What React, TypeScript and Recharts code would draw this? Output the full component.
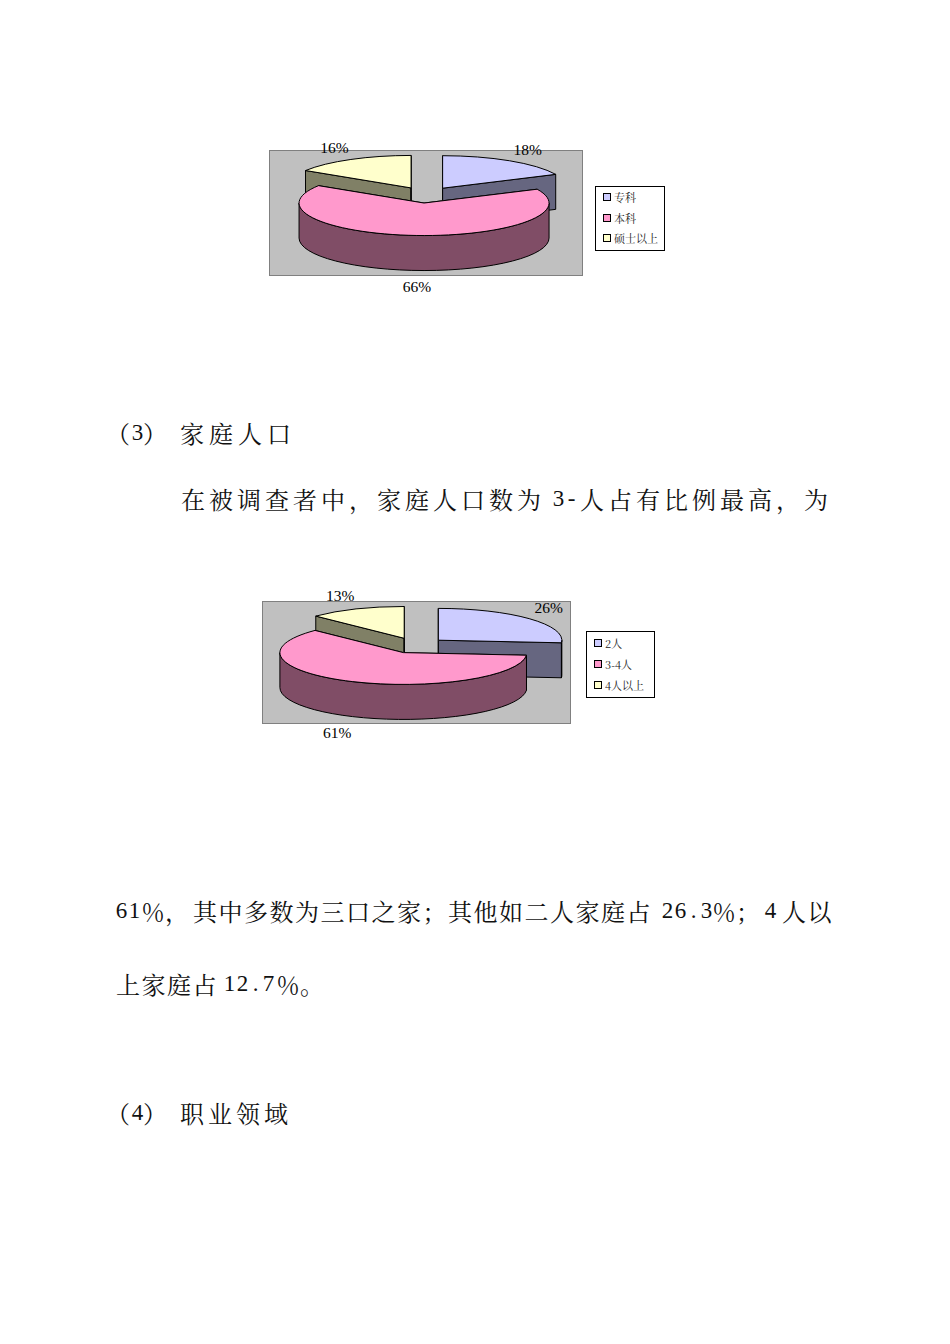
import React from "react"
import { PieChart, Pie, Legend } from "recharts"

const eduCategories = ["专科", "本科", "硕士以上"]
const eduValues = [18, 66, 16]

const familyCategories = ["2人", "3-4人", "4人以上"]
const familyValues = [26.3, 61, 12.7]

const sliceColors = ["#CCCCFF", "#FF99CC", "#FFFFCC"]
// the big slice has to be painted last so it sits in front of the other two
const paintOrder = [2, 0, 1]

const CJK = '"Noto Serif CJK SC", "Noto Sans CJK SC", serif'
const SERIF = '"Liberation Serif", serif'

const halfShade = (hex: string) => {
  const n = parseInt(hex.slice(1), 16)
  const c = [(n >> 16) & 255, (n >> 8) & 255, n & 255].map((v) => Math.round(v / 2))
  return `rgb(${c[0]},${c[1]},${c[2]})`
}

const rad = (a: number) => (a * Math.PI) / 180

// draws a recharts sector as an exploded slice of a tilted pie
function makeSlice(tilt: number, depth: number, explode: number) {
  return function Slice(props: any) {
    const { cx, cy, outerRadius, startAngle, endAngle, fill } = props
    const rx = outerRadius
    const ry = outerRadius * tilt
    const mid = (startAngle + endAngle) / 2
    const ox = cx + explode * Math.cos(rad(mid))
    const oy = cy - explode * tilt * Math.sin(rad(mid))
    const pt = (a: number, d = 0) => `${ox + rx * Math.cos(rad(a))} ${oy - ry * Math.sin(rad(a)) + d}`
    const side = halfShade(fill)
    const large = Math.abs(startAngle - endAngle) > 180 ? 1 : 0

    const wallFrom = Math.min(startAngle, 0)
    const wallTo = Math.max(endAngle, -180)
    const hasWall = wallFrom > wallTo
    const wallLarge = wallFrom - wallTo > 180 ? 1 : 0

    const line = { stroke: "#000", strokeWidth: 1, strokeLinejoin: "round" as const }
    return (
      <g>
        {[startAngle, endAngle].map((a: number) => (
          <path
            key={a}
            d={`M${ox} ${oy}L${pt(a)}L${pt(a, depth)}L${ox} ${oy + depth}Z`}
            fill={side}
            {...line}
          />
        ))}
        {hasWall && (
          <path
            d={`M${pt(wallFrom)}A${rx} ${ry} 0 ${wallLarge} 1 ${pt(wallTo)}L${pt(wallTo, depth)}A${rx} ${ry} 0 ${wallLarge} 0 ${pt(wallFrom, depth)}Z`}
            fill={side}
            {...line}
          />
        )}
        <path d={`M${ox} ${oy}L${pt(startAngle)}A${rx} ${ry} 0 ${large} 1 ${pt(endAngle)}Z`} fill={fill} {...line} />
      </g>
    )
  }
}

// nudges are per slice in paint order
const makeLabel = (nudges: number[][]) => (props: any) => {
  const { cx, cy, midAngle, percent, index } = props
  const c = Math.cos(rad(midAngle))
  const s = Math.sin(rad(midAngle))
  const x = cx + 190 * c + nudges[index][0]
  const y = cy - 54 * s + (s < 0 ? -39 * s : 0) + nudges[index][1]
  return (
    <text x={x} y={y} textAnchor="middle" dominantBaseline="central" fontFamily={SERIF} fontSize={15.5} fill="#000">
      {`${Math.round(percent * 100)}%`}
    </text>
  )
}

function LegendBox({ categories, rowHeight }: { categories: string[]; rowHeight: number }) {
  return (
    <div
      style={{
        boxSizing: "border-box",
        width: "100%",
        height: "100%",
        border: "1px solid #000",
        background: "#fff",
        paddingLeft: 7,
      }}
    >
      {categories.map((name, i) => (
        <div key={name} style={{ display: "flex", alignItems: "center", height: rowHeight, fontFamily: CJK, fontSize: 11, color: "#222" }}>
          <span
            style={{
              boxSizing: "border-box",
              width: 8,
              height: 8,
              marginRight: 3,
              border: "1px solid #000",
              background: sliceColors[i],
            }}
          />
          {name}
        </div>
      ))}
    </div>
  )
}

interface Tilted3DPieProps {
  categories: string[]
  values: number[]
  left: number
  top: number
  width: number
  height: number
  plot: { x: number; y: number; w: number; h: number }
  legend: { x: number; y: number; w: number; h: number; rowHeight: number }
  cx: number
  cy: number
  radius: number
  tilt: number
  explode: number
  nudges: number[][]
}

function Tilted3DPie(p: Tilted3DPieProps) {
  const total = p.values.reduce((a, b) => a + b, 0)
  const pieData = paintOrder.map((i) => ({ name: p.categories[i], value: p.values[i], fill: sliceColors[i] }))
  const start = 90 + (p.values[paintOrder[0]] / total) * 360
  return (
    <div style={{ position: "absolute", left: p.left, top: p.top, width: p.width, height: p.height }}>
      <div
        style={{
          position: "absolute",
          boxSizing: "border-box",
          left: p.plot.x,
          top: p.plot.y,
          width: p.plot.w,
          height: p.plot.h,
          background: "#C0C0C0",
          border: "1px solid #808080",
        }}
      />
      <PieChart width={p.width} height={p.height} margin={{ top: 0, right: 0, bottom: 0, left: 0 }} style={{ position: "absolute" }}>
        <Pie
          data={pieData}
          dataKey="value"
          nameKey="name"
          cx={p.cx}
          cy={p.cy}
          innerRadius={0}
          outerRadius={p.radius}
          startAngle={start}
          endAngle={start - 360}
          paddingAngle={0}
          shape={makeSlice(p.tilt, 35, p.explode)}
          label={makeLabel(p.nudges)}
          labelLine={false}
          isAnimationActive={false}
        />
        <Legend
          layout="vertical"
          align="right"
          verticalAlign="middle"
          content={() => <LegendBox categories={p.categories} rowHeight={p.legend.rowHeight} />}
          wrapperStyle={{ left: p.legend.x, top: p.legend.y, width: p.legend.w, height: p.legend.h, right: "auto", bottom: "auto" }}
        />
      </PieChart>
    </div>
  )
}

function T(props: { x: number; y: number; ls?: number; children: string }) {
  return (
    <span
      style={{
        position: "absolute",
        left: props.x,
        top: props.y - 17,
        lineHeight: "34px",
        whiteSpace: "pre",
        color: "#111",
        fontFamily: CJK,
        fontSize: 24,
        letterSpacing: props.ls ?? 0,
      }}
    >
      {props.children}
    </span>
  )
}

// half-width digits on a fixed 13px pitch
function D(props: { x: number; y: number; children: string }) {
  return (
    <span
      style={{
        position: "absolute",
        left: props.x,
        top: props.y - 17,
        lineHeight: "34px",
        whiteSpace: "pre",
        color: "#111",
        fontFamily: SERIF,
        fontSize: 23,
      }}
    >
      {props.children.split("").map((ch, i) => (
        <span key={i} style={{ display: "inline-block", width: 13, textAlign: "center" }}>
          {ch}
        </span>
      ))}
    </span>
  )
}

export default function App() {
  return (
    <div style={{ position: "absolute", left: 0, top: 0, width: 950, height: 1344, background: "#fff", overflow: "hidden" }}>
      <Tilted3DPie
        categories={eduCategories}
        values={eduValues}
        left={260}
        top={130}
        width={410}
        height={170}
        plot={{ x: 9, y: 20, w: 314, h: 126 }}
        legend={{ x: 335, y: 56, w: 70, h: 65, rowHeight: 20.5 }}
        cx={166}
        cy={65}
        radius={125}
        tilt={0.26}
        explode={31}
        nudges={[[0, 0], [0, 0], [3, -1]]}
      />

      <T x={106} y={433}>（</T>
      <D x={131} y={433}>3</D>
      <T x={143} y={433}>）</T>
      <T x={180} y={433} ls={5}>家庭人口</T>

      <T x={181} y={499} ls={4}>在被调查者中，家庭人口数为</T>
      <D x={552} y={499}>3-</D>
      <T x={580} y={499} ls={4}>人占有比例最高，为</T>

      <Tilted3DPie
        categories={familyCategories}
        values={familyValues}
        left={250}
        top={585}
        width={410}
        height={160}
        plot={{ x: 12, y: 16, w: 309, h: 123 }}
        legend={{ x: 336, y: 46, w: 69, h: 67, rowHeight: 21 }}
        cx={166}
        cy={60.5}
        radius={123.5}
        tilt={0.2575}
        explode={30.4}
        nudges={[[-2, 0], [-7, -1], [0, 2]]}
      />

      <D x={115} y={911}>61</D>
      <T x={141} y={911}>％，</T>
      <T x={193} y={911} ls={1.5}>其中多数为三口之家；其他如二人家庭占</T>
      <D x={661} y={911}>26.3</D>
      <T x={712} y={911}>％；</T>
      <D x={764} y={911}>4</D>
      <T x={782} y={911} ls={1.5}>人以</T>

      <T x={116} y={984} ls={1.5}>上家庭占</T>
      <D x={223} y={984}>12.7</D>
      <T x={276} y={984}>％。</T>

      <T x={106} y={1113}>（</T>
      <D x={131} y={1113}>4</D>
      <T x={143} y={1113}>）</T>
      <T x={180} y={1113} ls={4}>职业领域</T>
    </div>
  )
}
